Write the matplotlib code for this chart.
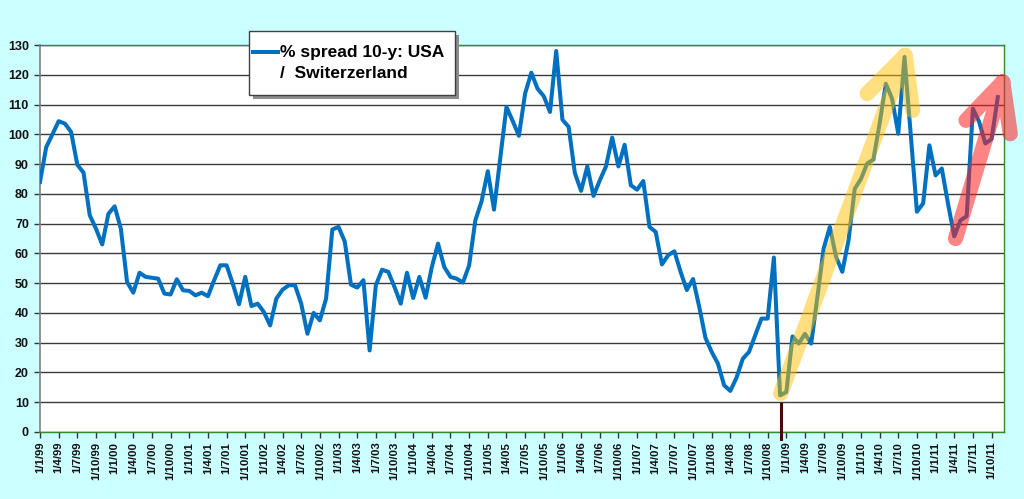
import matplotlib
matplotlib.use('Agg')
import matplotlib.pyplot as plt
from matplotlib.patches import Rectangle
import numpy as np

# monthly spread, Jan 1999 .. Nov 2011
spread = [84, 95.7, 100, 104.4, 103.6, 100.8, 89.8, 87.1, 72.8, 68.3, 63, 73.3,
          75.8, 68.3, 50.4, 46.8, 53.5, 52.1, 51.8, 51.5, 46.5, 46.2, 51.3, 47.6,
          47.4, 45.9, 46.8, 45.6, 51, 56, 56, 49.8, 42.9, 52.1, 42.3, 43.1,
          40.3, 35.8, 44.8, 47.8, 49.3, 49.3, 43.1, 33, 40, 37.5, 44.8, 68,
          68.9, 64, 49.5, 48.5, 51, 27.4, 49.3, 54.5, 53.8, 48.7, 43.1, 53.5,
          45, 52.1, 45.1, 55.4, 63.3, 55.4, 52.1, 51.5, 50.2, 56, 71.1, 77.5,
          87.6, 74.7, 92, 109.2, 104.5, 99.5, 113.7, 120.7, 115.3, 112.8, 107.5, 128,
          104.9, 102.5, 87, 81, 89.2, 79.3, 84.5, 89.2, 98.9, 89.2, 96.5, 82.9,
          81.4, 84.3, 68.9, 67.2, 56.3, 59.4, 60.7, 53.8, 47.7, 51.4, 42, 31.6,
          26.9, 23, 15.7, 13.8, 18.3, 24.6, 26.9, 32.5, 38.1, 38.1, 58.6, 12.3,
          13.4, 32.1, 29.7, 33, 29.7, 45.4, 61.6, 68.9, 58.8, 53.8, 64.4, 81.7,
          85, 90.2, 91.5, 103.6, 117, 112, 100.2, 126, 100, 74, 76.8, 96.3,
          86.2, 88.5, 76.7, 65.7, 71.1, 72.5, 108.6, 104.2, 96.9, 98.4, 112.5]

years = list(range(1999, 2012))
quarter_months = [1, 4, 7, 10]
tick_labels = ["1/%d/%02d" % (m, y % 100) for y in years for m in quarter_months]
tick_pos = [3 * k for k in range(len(tick_labels))]
y_ticks = list(range(0, 131, 10))

# hand drawn arrows (start, tip, left wing, right wing) in month/value units
yellow_arrow = [(119.1, 13), (139.1, 126.5), (133, 113.7), (140.3, 108)]
red_arrow = [(147.2, 65), (154.8, 117.6), (148.9, 104.7), (156, 100.2)]
crash_mark = (119.2, 9.5, -2.5)

blue = '#0070C0'
bg = '#CCFFFF'

fig = plt.figure(figsize=(10.24, 4.99), dpi=100, facecolor=bg)
ax = fig.add_axes([40 / 1024, 1 - 432 / 499, 964 / 1024, 387 / 499])
ax.set_facecolor('white')

ax.plot(range(len(spread)), spread, color=blue, lw=2.9, solid_joinstyle='round', zorder=3)


def draw_arrow(pts, color, alpha):
    s, t, l, r = pts
    xs = [s[0], t[0], l[0], np.nan, t[0], r[0]]
    ys = [s[1], t[1], l[1], np.nan, t[1], r[1]]
    ax.plot(xs, ys, color=color, alpha=alpha, lw=11, solid_capstyle='round',
            solid_joinstyle='round', zorder=4, clip_on=False)


draw_arrow(yellow_arrow, '#FFC000', 0.5)
draw_arrow(red_arrow, '#FF2020', 0.55)

ax.plot([crash_mark[0], crash_mark[0]], [crash_mark[1], crash_mark[2]],
        color='#4a0a0a', lw=2.2, zorder=5, clip_on=False)

ax.set_xlim(0, 155)
ax.set_ylim(0, 130)
ax.set_yticks(y_ticks)
ax.set_xticks(tick_pos)
ax.set_xticklabels(tick_labels, rotation=90)
ax.yaxis.grid(True, color='#3a3a3a', lw=1)
ax.set_axisbelow(True)

for lab in ax.get_xticklabels() + ax.get_yticklabels():
    lab.set_fontfamily('Liberation Sans')
    lab.set_fontweight('bold')
    lab.set_color('#111111')
ax.tick_params(axis='x', labelsize=8.2, length=4, width=1, color='#333333', pad=3)
ax.tick_params(axis='y', labelsize=9, length=4, width=1, color='#333333', pad=4)

for side in ['top', 'right', 'bottom']:
    ax.spines[side].set_color('#2e8b2e')
    ax.spines[side].set_linewidth(1)
ax.spines['left'].set_color('#808080')
ax.spines['left'].set_linewidth(1.2)

# legend box
W, H = 1024.0, 499.0
bx, by, bw, bh = 249, 31, 206, 64
fig.patches.append(Rectangle(((bx + 4) / W, 1 - (by + bh + 4) / H), bw / W, bh / H,
                             transform=fig.transFigure, facecolor='#8c8c8c',
                             edgecolor='none', zorder=10))
fig.patches.append(Rectangle((bx / W, 1 - (by + bh) / H), bw / W, bh / H,
                             transform=fig.transFigure, facecolor='white',
                             edgecolor='#404040', lw=1, zorder=11))
fig.lines.append(plt.Line2D([253 / W, 278 / W], [1 - 52 / H, 1 - 52 / H],
                            transform=fig.transFigure, color=blue, lw=2.9, zorder=12))
fig.text(280 / W, 1 - 53 / H, '% spread 10-y: USA', fontsize=12.5, fontweight='bold',
         family='Liberation Sans', va='center', ha='left', zorder=12)
fig.text(280 / W, 1 - 74 / H, '/  Switerzerland', fontsize=12.5, fontweight='bold',
         family='Liberation Sans', va='center', ha='left', zorder=12)

fig.savefig('out.png', dpi=100, facecolor=bg)
